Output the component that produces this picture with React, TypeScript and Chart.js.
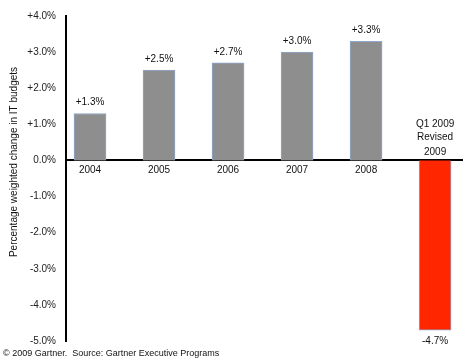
import React, { useEffect, useRef } from "react";
import { Chart, registerables } from "chart.js";

Chart.register(...registerables);

const categories = ["2004", "2005", "2006", "2007", "2008", "2009"];
const values = [1.3, 2.5, 2.7, 3.0, 3.3, -4.7];
const valueLabels = ["+1.3%", "+2.5%", "+2.7%", "+3.0%", "+3.3%", "-4.7%"];
const yTicks = [4, 3, 2, 1, 0, -1, -2, -3, -4, -5];
const yTickLabels = ["+4.0%", "+3.0%", "+2.0%", "+1.0%", "0.0%", "-1.0%", "-2.0%", "-3.0%", "-4.0%", "-5.0%"];
const revisedNote = ["Q1 2009", "Revised", "2009"];
const yTitle = "Percentage weighted change in IT budgets";
const footer = "\u00A9 2009 Gartner.  Source: Gartner Executive Programs";
const barColors = ["#8e8e8e", "#8e8e8e", "#8e8e8e", "#8e8e8e", "#8e8e8e", "#ff2600"];

const FONT = "'Liberation Sans', Arial, sans-serif";

const annotations = {
  id: "annotations",
  afterDatasetsDraw(chart: any) {
    const ctx = chart.ctx;
    const meta = chart.getDatasetMeta(0);
    ctx.save();
    ctx.fillStyle = "#111";
    ctx.font = `10px ${FONT}`;
    ctx.textAlign = "center";
    ctx.textBaseline = "middle";
    meta.data.forEach((bar: any, i: number) => {
      const v = values[i];
      const y = v >= 0 ? bar.y - 11 : bar.y + 11;
      ctx.fillText(valueLabels[i], bar.x, y);
    });
    // note above the 2009 bar
    const xs = chart.scales.x;
    const ys = chart.scales.y;
    const cx = xs.getPixelForValue(5);
    const zero = ys.getPixelForValue(0);
    ctx.fillText(revisedNote[0], cx, zero - 36);
    ctx.fillText(revisedNote[1], cx, zero - 23);
    ctx.fillText(revisedNote[2], cx, zero - 8);
    // y title
    ctx.save();
    ctx.translate(14, 162);
    ctx.rotate(-Math.PI / 2);
    ctx.font = `10px ${FONT}`;
    ctx.fillText(yTitle, 0, 0);
    ctx.restore();
    // footer
    ctx.textAlign = "left";
    ctx.font = `9px ${FONT}`;
    ctx.fillText(footer, 3, 354);
    ctx.restore();
  },
};

export default function App() {
  const ref = useRef<HTMLCanvasElement>(null);
  useEffect(() => {
    if (!ref.current) return;
    const chart = new Chart(ref.current, {
      type: "bar",
      data: {
        datasets: [
          {
            data: values.map((v, i) => ({ x: i, y: v })),
            backgroundColor: barColors,
            borderColor: "#8ea8cc",
            borderWidth: 1,
            barThickness: 32,
          } as any,
        ],
      },
      options: {
        animation: false,
        responsive: false,
        maintainAspectRatio: false,
        layout: { padding: { top: 15, bottom: 22, right: 6, left: 0 } },
        plugins: { legend: { display: false }, tooltip: { enabled: false } },
        scales: {
          x: {
            type: "linear",
            offset: false,
            position: { y: 0 } as any,
            min: -0.348,
            max: 5.39,
            grid: { display: false, drawTicks: false, offset: false },
            border: { color: "#000", width: 2 },
            afterBuildTicks: (s: any) => {
              s.ticks = categories.map((_, i) => ({ value: i }));
            },
            ticks: {
              autoSkip: false,
              maxRotation: 0,
              padding: 4,
              color: "#111",
              font: { family: FONT, size: 10 },
              callback: (v: any) => (v === 5 ? "" : categories[v as number]),
            },
          },
          y: {
            min: -5,
            max: 4,
            afterBuildTicks: (s: any) => {
              s.ticks = yTicks.map((t) => ({ value: t }));
            },
            afterFit: (s: any) => {
              s.width = 66;
            },
            grid: { display: false, drawTicks: false },
            border: { color: "#000", width: 2 },
            ticks: {
              padding: 10,
              color: "#222",
              font: { family: FONT, size: 10 },
              callback: (v: any) => yTickLabels[yTicks.indexOf(v as number)],
            },
          },
        },
      },
      plugins: [annotations],
    });
    return () => chart.destroy();
  }, []);
  return (
    <div style={{ position: "absolute", left: 0, top: 0, width: 468, height: 363, background: "#fff" }}>
      <canvas ref={ref} width={468} height={363} style={{ width: 468, height: 363 }} />
    </div>
  );
}
